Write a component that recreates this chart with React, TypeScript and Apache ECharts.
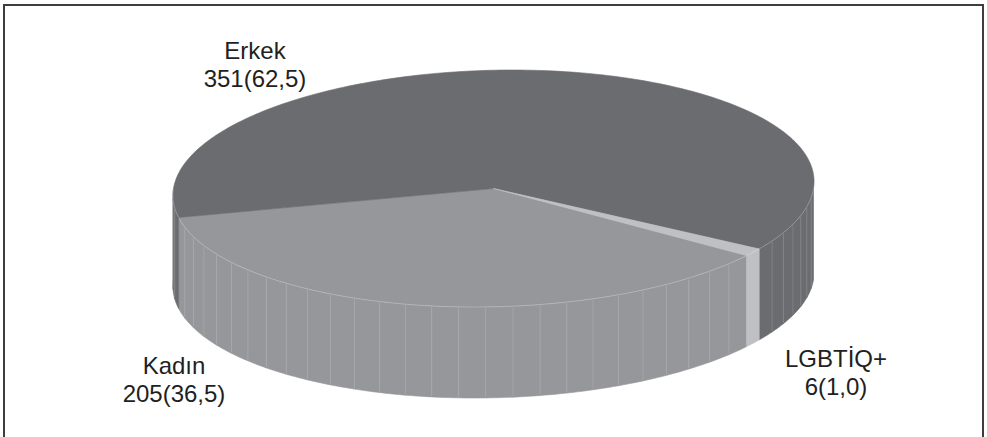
import React, { useEffect, useRef } from "react";
import * as echarts from "echarts";

// Survey respondents by gender identity
const categories = ["Kadın", "Erkek", "LGBTİQ+"];
const counts = [205, 351, 6];
const percents = [36.5, 62.5, 1.0];

// Slice fills (top face and wall share the same tone)
const sliceColors = ["#96979b", "#6b6c70", "#bfc0c3"];

// Label anchors (top of the two-line text block, centred horizontally)
const labelAnchors: [number, number][] = [
  [174, 351],
  [255, 36],
  [836, 344],
];

// Disc geometry in screen space (a sheared ellipse gives the oblique 3D look)
const CX = 493.5;
const CY = 188.5;
const RX = 320;
const RY = 118.5;
const SHEAR = 0.159;
const DEPTH = 91;
const START_ANGLE = 34.5; // degrees, clockwise from 3 o'clock

const DEG = Math.PI / 180;

function rimPoint(tDeg: number, drop: number): [number, number] {
  const t = tDeg * DEG;
  const c = Math.cos(t);
  const s = Math.sin(t);
  const x = CX + RX * c - SHEAR * RY * s;
  const y = CY + RY * s + drop * DEPTH;
  return [x, y];
}

function frontRanges(a: number, b: number): [number, number][] {
  const out: [number, number][] = [];
  for (const off of [0, 360, -360]) {
    const lo = Math.max(a, off);
    const hi = Math.min(b, off + 180);
    if (hi > lo) out.push([lo, hi]);
  }
  return out;
}

function fmtPct(p: number) {
  return p.toFixed(1).replace(".", ",");
}

export default function App() {
  const ref = useRef<HTMLDivElement>(null);

  useEffect(() => {
    if (!ref.current) return;
    const chart = echarts.init(ref.current, undefined, { renderer: "svg" });
    const total = counts.reduce((a, b) => a + b, 0);

    const renderItem = (params: any, api: any) => {
      const i = params.dataIndex;
      const value = api.value(0) as number;
      let before = 0;
      for (let k = 0; k < i; k++) before += counts[k];
      const a = START_ANGLE + (before / total) * 360;
      const b = a + (value / total) * 360;
      const color = sliceColors[i];
      const children: any[] = [];

      // walls of the visible (front) part of the slice
      for (const [lo, hi] of frontRanges(a, b)) {
        const n = Math.max(1, Math.ceil((hi - lo) / 5));
        for (let j = 0; j < n; j++) {
          const t1 = lo + ((hi - lo) * j) / n;
          const t2 = lo + ((hi - lo) * (j + 1)) / n;
          const pts: [number, number][] = [];
          const sub = 5;
          for (let q = 0; q <= sub; q++) pts.push(rimPoint(t1 + ((t2 - t1) * q) / sub, 0));
          for (let q = sub; q >= 0; q--) pts.push(rimPoint(t1 + ((t2 - t1) * q) / sub, 1));
          children.push({
            type: "polygon",
            shape: { points: pts },
            style: { fill: color, stroke: color, lineWidth: 0.6 },
          });
        }
        for (let j = 1; j < n; j++) {
          const t = lo + ((hi - lo) * j) / n;
          const p0 = rimPoint(t, 0);
          const p1 = rimPoint(t, 1);
          children.push({
            type: "line",
            shape: { x1: p0[0], y1: p0[1] + 1, x2: p1[0], y2: p1[1] - 1 },
            style: { stroke: "rgba(255,255,255,0.2)", lineWidth: 0.7 },
          });
        }
      }

      // top face
      const top: [number, number][] = [[CX, CY]];
      const steps = Math.max(2, Math.ceil(b - a));
      for (let q = 0; q <= steps; q++) top.push(rimPoint(a + ((b - a) * q) / steps, 0));
      children.push({
        type: "polygon",
        shape: { points: top },
        style: { fill: color, stroke: color, lineWidth: 0.6 },
      });

      // faint highlight along the front rim
      for (const [lo, hi] of frontRanges(a, b)) {
        const pts: [number, number][] = [];
        const m = Math.max(2, Math.ceil(hi - lo));
        for (let q = 0; q <= m; q++) pts.push(rimPoint(lo + ((hi - lo) * q) / m, 0));
        children.push({
          type: "polyline",
          shape: { points: pts },
          style: { stroke: "rgba(255,255,255,0.3)", lineWidth: 0.8, fill: null },
        });
      }

      // label
      const [lx, ly] = labelAnchors[i];
      children.push({
        type: "text",
        style: {
          text: `${categories[i]}\n${value}(${fmtPct(percents[i])})`,
          x: lx,
          y: ly,
          align: "center",
          verticalAlign: "top",
          fontSize: 24,
          lineHeight: 28,
          fontFamily: '"Liberation Sans", Arial, Helvetica, sans-serif',
          fill: "#231f20",
        },
      });

      return { type: "group", children };
    };

    chart.setOption({
      animation: false,
      backgroundColor: "#ffffff",
      graphic: [
        {
          type: "rect",
          shape: { x: 4, y: 5, width: 979, height: 460 },
          style: { fill: null, stroke: "#3d3d3d", lineWidth: 2 },
          z: 10,
        },
      ],
      series: [
        {
          type: "custom",
          coordinateSystem: "none",
          renderItem,
          data: categories.map((name, i) => ({ name, value: [counts[i], percents[i]] })),
        },
      ],
    });

    return () => chart.dispose();
  }, []);

  return (
    <div
      ref={ref}
      style={{ position: "fixed", left: 0, top: 0, width: 987, height: 437, background: "#fff" }}
    />
  );
}
